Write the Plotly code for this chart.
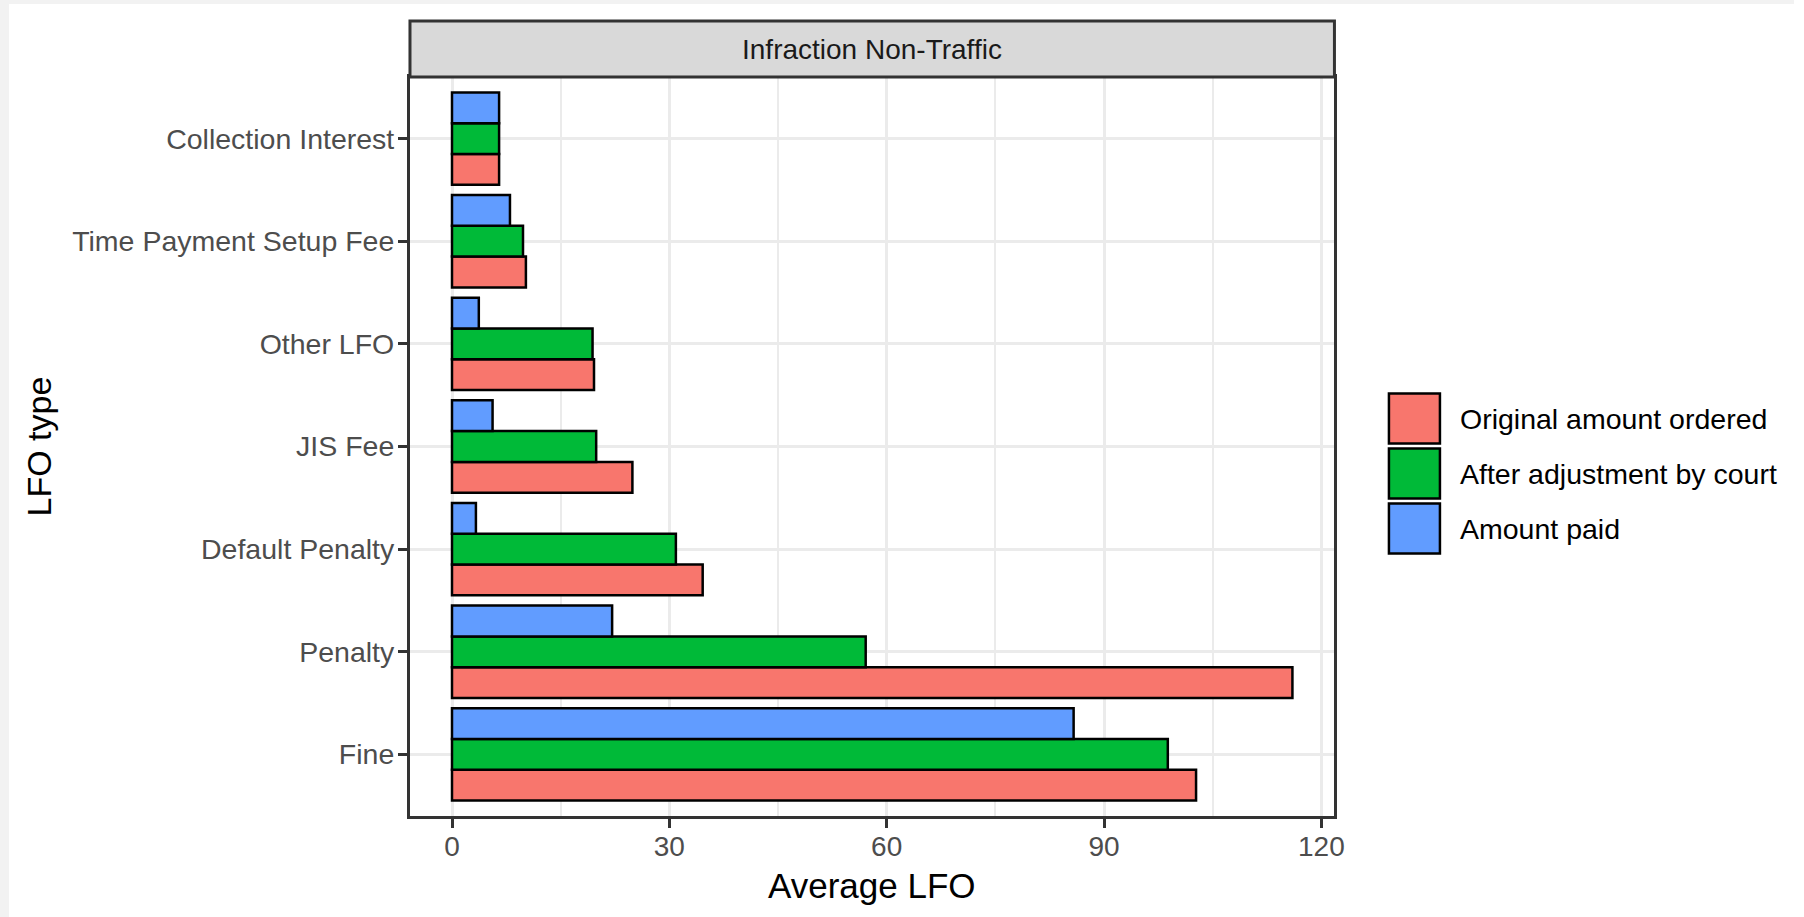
import plotly.graph_objects as go

# ---------------- data ----------------
categories = ["Fine", "Penalty", "Default Penalty", "JIS Fee", "Other LFO",
              "Time Payment Setup Fee", "Collection Interest"]
original_amount = [102.7, 116.0, 34.6, 24.9, 19.6, 10.2, 6.5]
after_adjustment = [98.8, 57.1, 30.9, 19.9, 19.4, 9.8, 6.5]
amount_paid = [85.8, 22.1, 3.3, 5.6, 3.7, 8.0, 6.5]

series_names = ["Original amount ordered", "After adjustment by court", "Amount paid"]
series_values = [original_amount, after_adjustment, amount_paid]
series_colors = ["#F8766D", "#00BA38", "#619CFF"]

facet_label = "Infraction Non-Traffic"
x_title = "Average LFO"
y_title = "LFO type"
x_ticks = [0, 30, 60, 90, 120]

# ---------------- layout helpers ----------------
W, H = 1804, 917
SX = 1 / 0.9945  # horizontal compensation observed in the rendering
FONT = "Liberation Sans, Arial, sans-serif"


def px(x):
    return min(1.0, x * SX / W)


def py(y):
    return 1 - y / H


panel_l, panel_r, panel_t, panel_b = 410, 1334.5, 77, 816

fig = go.Figure()
for name, vals, col in zip(series_names, series_values, series_colors):
    fig.add_trace(go.Bar(
        y=categories, x=vals, name=name, orientation="h",
        marker=dict(color=col, line=dict(color="black", width=2.5)),
        showlegend=False,
    ))

shapes = []
# light-grey page edges (left and top) around the white image
shapes.append(dict(type="rect", xref="paper", yref="paper",
                   x0=0, x1=px(9), y0=0, y1=1,
                   fillcolor="#f2f2f2", line=dict(width=0), layer="below"))
shapes.append(dict(type="rect", xref="paper", yref="paper",
                   x0=0, x1=1, y0=py(4), y1=1,
                   fillcolor="#f2f2f2", line=dict(width=0), layer="below"))
# facet strip
shapes.append(dict(type="rect", xref="paper", yref="paper",
                   x0=px(panel_l), x1=px(panel_r), y0=py(panel_t), y1=py(21),
                   fillcolor="#d9d9d9", line=dict(color="#333333", width=3),
                   layer="above"))

annotations = [
    dict(text=facet_label, xref="paper", yref="paper",
         x=px((panel_l + panel_r) / 2), y=py(50), showarrow=False,
         xanchor="center", yanchor="middle",
         font=dict(family=FONT, size=28, color="#1a1a1a")),
    dict(text=x_title, xref="paper", yref="paper",
         x=px((panel_l + panel_r) / 2), y=py(885), showarrow=False,
         xanchor="center", yanchor="middle",
         font=dict(family=FONT, size=35, color="black")),
    dict(text=y_title, xref="paper", yref="paper",
         x=px(40), y=py((panel_t + panel_b) / 2), showarrow=False,
         xanchor="center", yanchor="middle", textangle=-90,
         font=dict(family=FONT, size=34, color="black")),
]

# legend (ggplot-style large keys)
key_x0, key_x1 = 1389, 1440
for i, (name, col) in enumerate(zip(series_names, series_colors)):
    cy = 418.5 + 55 * i
    shapes.append(dict(type="rect", xref="paper", yref="paper",
                       x0=px(key_x0), x1=px(key_x1),
                       y0=py(cy + 25), y1=py(cy - 25),
                       fillcolor=col, line=dict(color="black", width=2.5)))
    annotations.append(dict(text=name, xref="paper", yref="paper",
                            x=px(1458), y=py(cy), showarrow=False,
                            xanchor="left", yanchor="middle",
                            font=dict(family=FONT, size=28.5, color="black")))

fig.update_layout(
    width=W, height=H,
    margin=dict(l=0, r=0, t=0, b=0),
    paper_bgcolor="white",
    plot_bgcolor="white",
    barmode="group", bargap=0.1, bargroupgap=0,
    font=dict(family=FONT),
    shapes=shapes,
    annotations=annotations,
    showlegend=False,
    xaxis=dict(
        domain=[px(panel_l), px(panel_r)],
        range=[-5.8, 121.8],
        tickvals=x_ticks, ticktext=[str(t) for t in x_ticks],
        ticks="outside", ticklen=9, tickwidth=2.5, tickcolor="#333333",
        tickfont=dict(family=FONT, size=28, color="#4d4d4d"),
        ticklabelstandoff=-6,
        showgrid=True, gridcolor="#ebebeb", gridwidth=3,
        minor=dict(tickvals=[15, 45, 75, 105], showgrid=True,
                   gridcolor="#ebebeb", gridwidth=1.5, ticks=""),
        showline=True, linecolor="#333333", linewidth=3, mirror=True,
        zeroline=False,
    ),
    yaxis=dict(
        domain=[py(panel_b), py(panel_t)],
        categoryorder="array", categoryarray=categories,
        range=[-0.6, len(categories) - 0.4],
        ticks="outside", ticklen=9, tickwidth=2.5, tickcolor="#333333",
        tickfont=dict(family=FONT, size=28.5, color="#4d4d4d"),
        ticklabelstandoff=-2,
        showgrid=True, gridcolor="#ebebeb", gridwidth=3,
        showline=True, linecolor="#333333", linewidth=3, mirror=True,
        zeroline=False,
    ),
)

fig.write_html(
    "out.html",
    config={"displayModeBar": False},
    post_script=("document.body.style.margin='0';"
                 "document.body.style.overflow='hidden';"
                 "document.body.style.background='white';"),
)
